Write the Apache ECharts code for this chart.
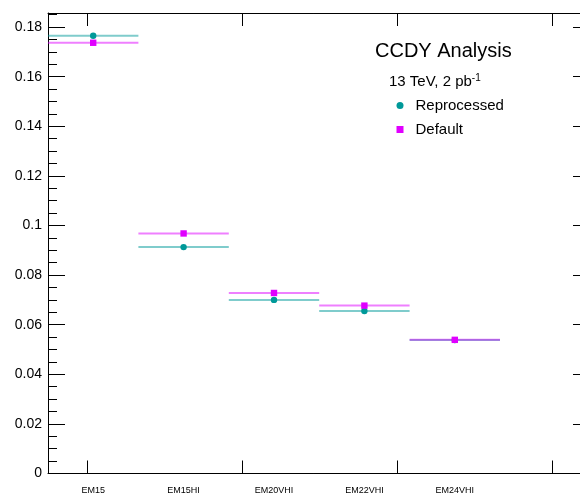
<!DOCTYPE html>
<html>
<head>
<meta charset="utf-8">
<script src="https://cdn.jsdelivr.net/npm/echarts@6/dist/echarts.min.js"></script>
<style>html,body{margin:0;padding:0;background:#fff}#c{width:580px;height:497px}</style>
</head>
<body>
<div id="c"></div>
<script>
var categories = ['EM15', 'EM15HI', 'EM20VHI', 'EM22VHI', 'EM24VHI'];
var reprocessed = [0.1765, 0.0913, 0.0700, 0.0655, 0.0538];
var defaultVals = [0.1737, 0.0968, 0.0728, 0.0677, 0.0539];
var binHalfWidth = 0.5;
var yMajorTicks = [0, 0.02, 0.04, 0.06, 0.08, 0.1, 0.12, 0.14, 0.16, 0.18];
var yMinorTicks = [0.005, 0.01, 0.015, 0.025, 0.03, 0.035, 0.045, 0.05, 0.055, 0.065, 0.07, 0.075,
  0.085, 0.09, 0.095, 0.105, 0.11, 0.115, 0.125, 0.13, 0.135, 0.145, 0.15, 0.155, 0.165, 0.17, 0.175, 0.185];
var xTicks = [0.43, 2.145, 3.86, 5.575];
var xLabelPos = [0.5, 1.5, 2.5, 3.5, 4.5];

var TEAL = '#009999';
var MAGENTA = '#e000ff';
var FONT = 'Liberation Sans, Arial, Helvetica, sans-serif';

function toData(vals) {
  return vals.map(function (v, i) { return [i + 0.5, v]; });
}

function makeRender(color, shape) {
  return function (params, api) {
    var x = api.value(0), y = api.value(1);
    var p0 = api.coord([x - binHalfWidth, y]);
    var p1 = api.coord([x + binHalfWidth, y]);
    var c = api.coord([x, y]);
    var marker = shape === 'circle'
      ? { type: 'circle', shape: { cx: c[0], cy: c[1], r: 3.2 }, style: { fill: color } }
      : { type: 'rect', shape: { x: c[0] - 3.2, y: c[1] - 3.2, width: 6.4, height: 6.4 }, style: { fill: color } };
    return {
      type: 'group',
      children: [
        { type: 'line', shape: { x1: p0[0], y1: p0[1], x2: p1[0], y2: p1[1] },
          style: { stroke: color, lineWidth: 2, opacity: 0.5 } },
        marker
      ]
    };
  };
}

var xMax = 5.885;
var yMax = 0.1857;
var axisLineStyle = { color: '#000', width: 1 };

var chart = echarts.init(document.getElementById('c'), null, { renderer: 'canvas' });
chart.setOption({
  animation: false,
  textStyle: { fontFamily: FONT },
  title: [
    { text: 'CCDY Analysis', left: 375, top: 41, padding: 0,
      textStyle: { fontSize: 20, fontWeight: 'normal', color: '#000', fontFamily: FONT } },
    { text: '13 TeV, 2 pb{sup|-1}', left: 389, top: 73, padding: 0,
      textStyle: { fontSize: 15, fontWeight: 'normal', color: '#000', fontFamily: FONT, lineHeight: 18,
        rich: { sup: { fontSize: 10, verticalAlign: 'top', lineHeight: 18, padding: [0, 0, 7, 0], fontFamily: FONT, color: '#000' } } } }
  ],
  legend: {
    orient: 'vertical', left: 396.5, top: 98, padding: 0,
    itemWidth: 7, itemHeight: 7, itemGap: 9,
    textStyle: { fontSize: 15, color: '#000', fontFamily: FONT, padding: [0, 0, 0, 7] },
    data: [{ name: 'Reprocessed', icon: 'circle' }, { name: 'Default', icon: 'rect' }]
  },
  grid: { left: 48, top: 13, right: 0, bottom: 23.5, containLabel: false },
  xAxis: [
    { type: 'value', min: 0, max: xMax, position: 'bottom',
      axisLine: { show: true, onZero: false, lineStyle: axisLineStyle },
      axisTick: { show: true, inside: true, length: 13, customValues: xTicks, lineStyle: axisLineStyle },
      axisLabel: { show: true, customValues: xLabelPos, fontSize: 9, color: '#000', margin: 13,
        formatter: function (v) { return categories[Math.floor(v)]; } },
      splitLine: { show: false }, minorTick: { show: false } },
    { type: 'value', min: 0, max: xMax, position: 'top',
      axisLine: { show: true, onZero: false, lineStyle: axisLineStyle },
      axisTick: { show: true, inside: true, length: 13, customValues: xTicks, lineStyle: axisLineStyle },
      axisLabel: { show: false }, splitLine: { show: false } }
  ],
  yAxis: [
    { type: 'value', min: 0, max: yMax, position: 'left',
      axisLine: { show: true, onZero: false, lineStyle: axisLineStyle },
      axisTick: { show: true, inside: true, length: 17, customValues: yMajorTicks, lineStyle: axisLineStyle },
      axisLabel: { show: true, customValues: yMajorTicks, fontSize: 14, color: '#000', margin: 6 },
      splitLine: { show: false } },
    { type: 'value', min: 0, max: yMax, position: 'left',
      axisLine: { show: false, onZero: false },
      axisTick: { show: true, inside: true, length: 9, customValues: yMinorTicks, lineStyle: axisLineStyle },
      axisLabel: { show: false }, splitLine: { show: false } },
    { type: 'value', min: 0, max: yMax, position: 'right',
      axisLine: { show: false, onZero: false },
      axisTick: { show: true, inside: true, length: 7, customValues: yMajorTicks, lineStyle: axisLineStyle },
      axisLabel: { show: false }, splitLine: { show: false } }
  ],
  series: [
    { name: 'Reprocessed', type: 'custom', xAxisIndex: 0, yAxisIndex: 0,
      itemStyle: { color: TEAL }, renderItem: makeRender(TEAL, 'circle'), data: toData(reprocessed), z: 3 },
    { name: 'Default', type: 'custom', xAxisIndex: 0, yAxisIndex: 0,
      itemStyle: { color: MAGENTA }, renderItem: makeRender(MAGENTA, 'rect'), data: toData(defaultVals), z: 4 }
  ]
});
</script>
</body>
</html>
